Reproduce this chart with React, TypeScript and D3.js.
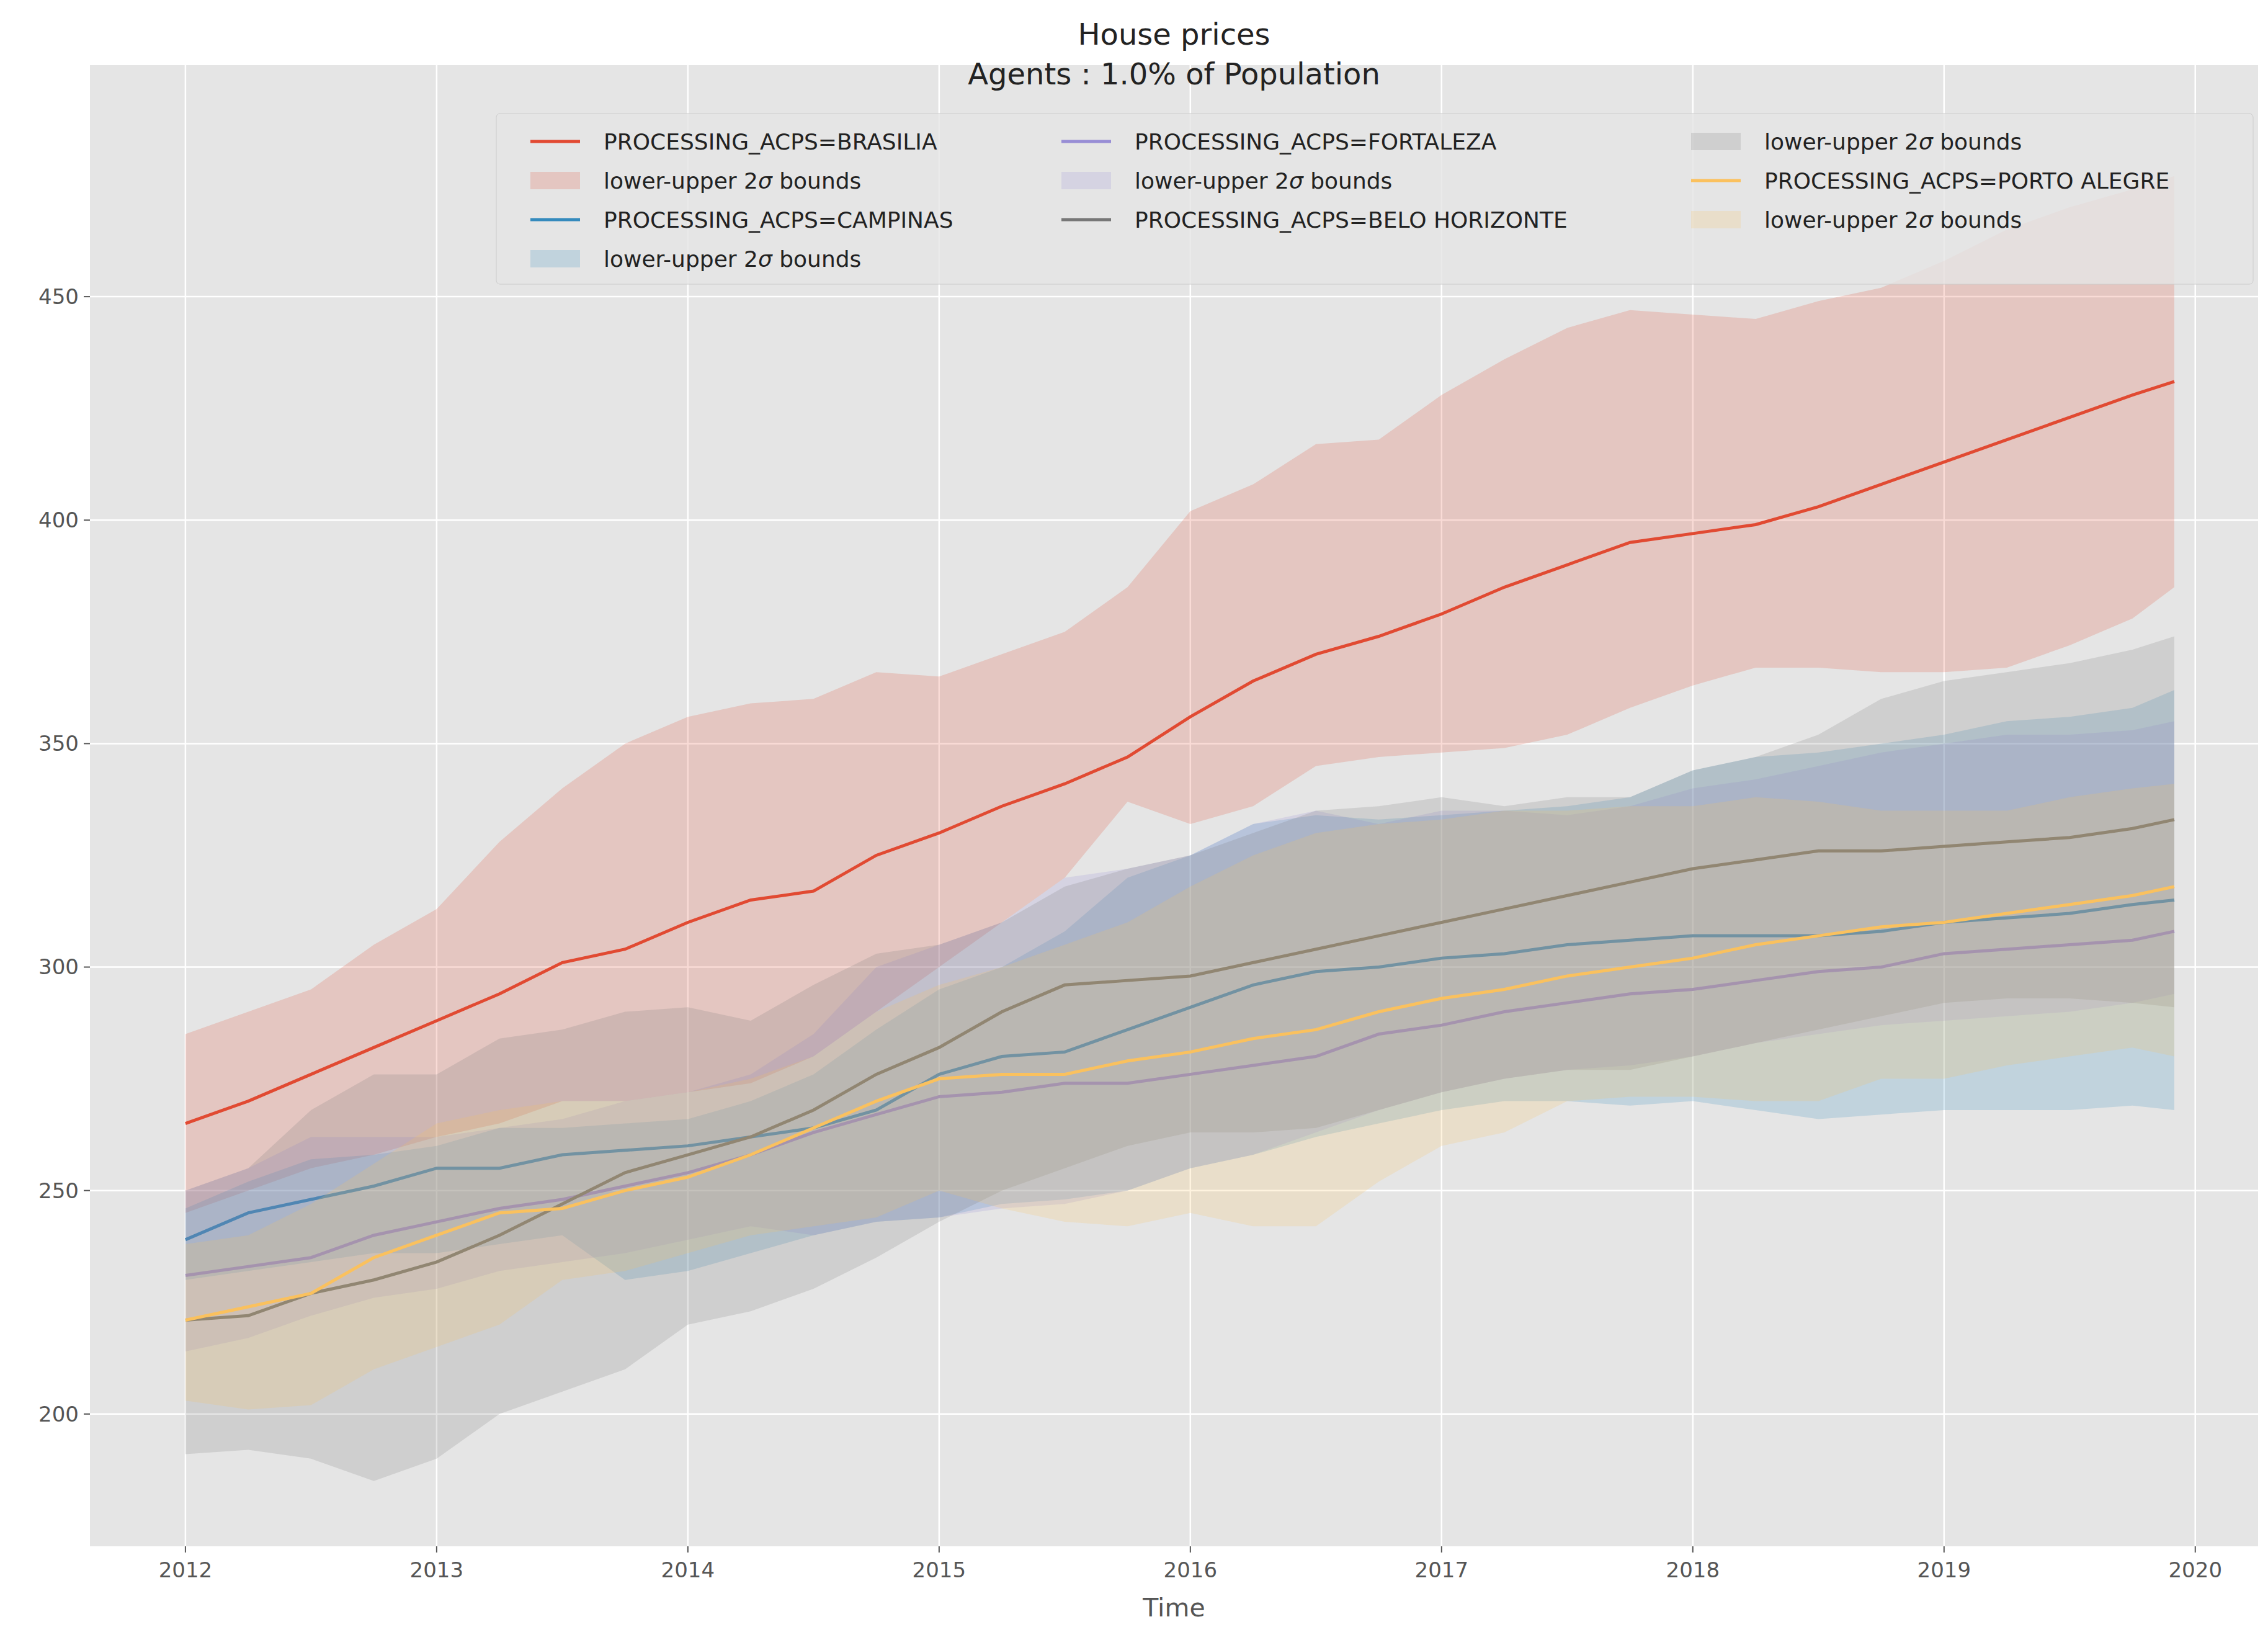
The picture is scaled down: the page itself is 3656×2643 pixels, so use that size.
import React, { useEffect, useRef } from 'react';
import * as d3 from 'd3';

// months since Jan 2012
const months = [0,3,6,9,12,15,18,21,24,27,30,33,36,39,42,45,48,51,54,57,60,63,66,69,72,75,78,81,84,87,90,93,95];

const brasilia = [265,270,276,282,288,294,301,304,310,315,317,325,330,336,341,347,356,364,370,374,379,385,390,395,397,399,403,408,413,418,423,428,431];
const brasiliaHi = [285,290,295,305,313,328,340,350,356,359,360,366,365,370,375,385,402,408,417,418,428,436,443,447,446,445,449,452,458,465,470,474,477];
const brasiliaLo = [245,250,255,258,262,265,270,270,272,274,280,290,300,310,320,337,332,336,345,347,348,349,352,358,363,367,367,366,366,367,372,378,385];

const campinas = [239,245,248,251,255,255,258,259,260,262,264,268,276,280,281,286,291,296,299,300,302,303,305,306,307,307,307,308,310,311,312,314,315];
const campinasHi = [246,252,257,258,260,264,264,265,266,270,276,286,295,300,308,320,325,332,334,333,334,335,336,338,344,347,348,350,352,355,356,358,362];
const campinasLo = [230,232,234,236,236,238,240,230,232,236,240,243,244,247,248,250,255,258,262,265,268,270,270,269,270,268,266,267,268,268,268,269,268];

const fortaleza = [231,233,235,240,243,246,248,251,254,258,263,267,271,272,274,274,276,278,280,285,287,290,292,294,295,297,299,300,303,304,305,306,308];
const fortalezaHi = [250,255,262,262,262,264,266,270,272,276,285,300,305,310,320,322,325,332,335,332,335,335,334,336,340,342,345,348,350,352,352,353,355];
const fortalezaLo = [214,217,222,226,228,232,234,236,239,242,240,243,244,246,247,250,255,258,263,268,272,275,277,278,280,283,285,287,288,289,290,292,294];

const beloHorizonte = [221,222,227,230,234,240,247,254,258,262,268,276,282,290,296,297,298,301,304,307,310,313,316,319,322,324,326,326,327,328,329,331,333];
const beloHorizonteHi = [250,255,268,276,276,284,286,290,291,288,296,303,305,310,318,322,325,330,335,336,338,336,338,338,344,347,352,360,364,366,368,371,374];
const beloHorizonteLo = [191,192,190,185,190,200,205,210,220,223,228,235,243,250,255,260,263,263,264,268,272,275,277,277,280,283,286,289,292,293,293,292,291];

const portoAlegre = [221,224,227,235,240,245,246,250,253,258,264,270,275,276,276,279,281,284,286,290,293,295,298,300,302,305,307,309,310,312,314,316,318];
const portoAlegreHi = [238,240,247,256,265,268,270,270,272,275,280,290,296,300,305,310,318,325,330,332,333,335,335,336,336,338,337,335,335,335,338,340,341];
const portoAlegreLo = [203,201,202,210,215,220,230,232,236,240,242,244,250,246,243,242,245,242,242,252,260,263,270,271,271,270,270,275,275,278,280,282,280];

const yTicks = [200, 250, 300, 350, 400, 450];
const xTicks = [2012, 2013, 2014, 2015, 2016, 2017, 2018, 2019, 2020];

const series = [
  { name: 'PROCESSING_ACPS=BRASILIA', color: '#E24A33', mean: brasilia, lo: brasiliaLo, hi: brasiliaHi },
  { name: 'PROCESSING_ACPS=CAMPINAS', color: '#348ABD', mean: campinas, lo: campinasLo, hi: campinasHi },
  { name: 'PROCESSING_ACPS=FORTALEZA', color: '#988ED5', mean: fortaleza, lo: fortalezaLo, hi: fortalezaHi },
  { name: 'PROCESSING_ACPS=BELO HORIZONTE', color: '#777777', mean: beloHorizonte, lo: beloHorizonteLo, hi: beloHorizonteHi },
  { name: 'PROCESSING_ACPS=PORTO ALEGRE', color: '#FBC15E', mean: portoAlegre, lo: portoAlegreLo, hi: portoAlegreHi },
];

const W = 3656, H = 2643;
const FONT = 'DejaVu Sans, sans-serif';

const App: React.FC = () => {
  const svgRef = useRef<SVGSVGElement>(null);

  useEffect(() => {
    const margin = { top: 105, right: 16, bottom: 151, left: 145 };
    const svg = d3.select(svgRef.current);
    svg.selectAll('*').remove();

    const x = d3.scaleLinear().domain([2011.62, 2020.25]).range([margin.left, W - margin.right]);
    const y = d3.scaleLinear().domain([170.4, 501.8]).range([H - margin.bottom, margin.top]);
    const t = (m: number) => 2012 + m / 12;

    svg.append('rect').attr('x', margin.left).attr('y', margin.top)
      .attr('width', W - margin.left - margin.right).attr('height', H - margin.top - margin.bottom)
      .attr('fill', '#E5E5E5');

    const grid = svg.append('g');
    yTicks.forEach(v => grid.append('line').attr('x1', margin.left).attr('x2', W - margin.right)
      .attr('y1', y(v)).attr('y2', y(v)).attr('stroke', '#fff').attr('stroke-width', 2.5));
    xTicks.forEach(v => grid.append('line').attr('y1', margin.top).attr('y2', H - margin.bottom)
      .attr('x1', x(v)).attr('x2', x(v)).attr('stroke', '#fff').attr('stroke-width', 2.5));

    const area = (s: typeof series[0]) => d3.area<number>()
      .x((_, i) => x(t(months[i]))).y0((_, i) => y(s.lo[i])).y1((_, i) => y(s.hi[i]))(months);
    const line = (s: typeof series[0]) => d3.line<number>()
      .x((_, i) => x(t(months[i]))).y((d) => y(d))(s.mean);

    series.forEach(s => {
      svg.append('path').attr('d', line(s)!).attr('fill', 'none').attr('stroke', s.color).attr('stroke-width', 5);
      svg.append('path').attr('d', area(s)!).attr('fill', s.color).attr('fill-opacity', 0.2);
    });

    yTicks.forEach(v => {
      svg.append('line').attr('x1', margin.left - 10).attr('x2', margin.left).attr('y1', y(v)).attr('y2', y(v)).attr('stroke', '#555').attr('stroke-width', 2);
      svg.append('text').attr('x', margin.left - 18).attr('y', y(v)).attr('dy', '0.35em').attr('text-anchor', 'end')
        .attr('font-size', 34).attr('fill', '#555').attr('font-family', FONT).text(v);
    });
    xTicks.forEach(v => {
      svg.append('line').attr('y1', H - margin.bottom).attr('y2', H - margin.bottom + 10).attr('x1', x(v)).attr('x2', x(v)).attr('stroke', '#555').attr('stroke-width', 2);
      svg.append('text').attr('x', x(v)).attr('y', H - margin.bottom + 50).attr('text-anchor', 'middle')
        .attr('font-size', 34).attr('fill', '#555').attr('font-family', FONT).text(v);
    });
    svg.append('text').attr('x', (margin.left + W - margin.right) / 2).attr('y', H - 38).attr('text-anchor', 'middle')
      .attr('font-size', 41).attr('fill', '#555').attr('font-family', FONT).text('Time');

    svg.append('text').attr('x', (margin.left + W - margin.right) / 2).attr('y', 72).attr('text-anchor', 'middle')
      .attr('font-size', 48).attr('fill', '#222').attr('font-family', FONT).text('House prices');
    svg.append('text').attr('x', (margin.left + W - margin.right) / 2).attr('y', 136).attr('text-anchor', 'middle')
      .attr('font-size', 48).attr('fill', '#222').attr('font-family', FONT).text('Agents : 1.0% of Population');

    const items: { color: string; label: string; band: boolean }[] = [];
    series.forEach(s => { items.push({ color: s.color, label: s.name, band: false }); items.push({ color: s.color, label: 'lower-upper 2', band: true }); });
    const lg = svg.append('g');
    lg.append('rect').attr('x', 800).attr('y', 183).attr('width', 2832).attr('height', 275)
      .attr('fill', '#E5E5E5').attr('fill-opacity', 0.8).attr('stroke', '#ccc').attr('rx', 6);
    const cols = [[0, 1, 2, 3], [4, 5, 6], [7, 8, 9]];
    const colX = [855, 1711, 2726];
    cols.forEach((col, ci) => col.forEach((idx, ri) => {
      const it = items[idx];
      const cx = colX[ci], cy = 228 + ri * 63;
      if (it.band) lg.append('rect').attr('x', cx).attr('y', cy - 14).attr('width', 80).attr('height', 28).attr('fill', it.color).attr('fill-opacity', 0.2);
      else lg.append('line').attr('x1', cx).attr('x2', cx + 80).attr('y1', cy).attr('y2', cy).attr('stroke', it.color).attr('stroke-width', 5);
      const tx = lg.append('text').attr('x', cx + 118).attr('y', cy).attr('dy', '0.35em')
        .attr('font-size', 36).attr('fill', '#222').attr('font-family', FONT).text(it.label);
      if (it.band) {
        tx.append('tspan').attr('font-style', 'italic').text('σ');
        tx.append('tspan').text(' bounds');
      }
    }));
  }, []);

  return <svg ref={svgRef} width={W} height={H} style={{ position: 'absolute', left: 0, top: 0, background: '#fff' }} />;
};

export default App;
